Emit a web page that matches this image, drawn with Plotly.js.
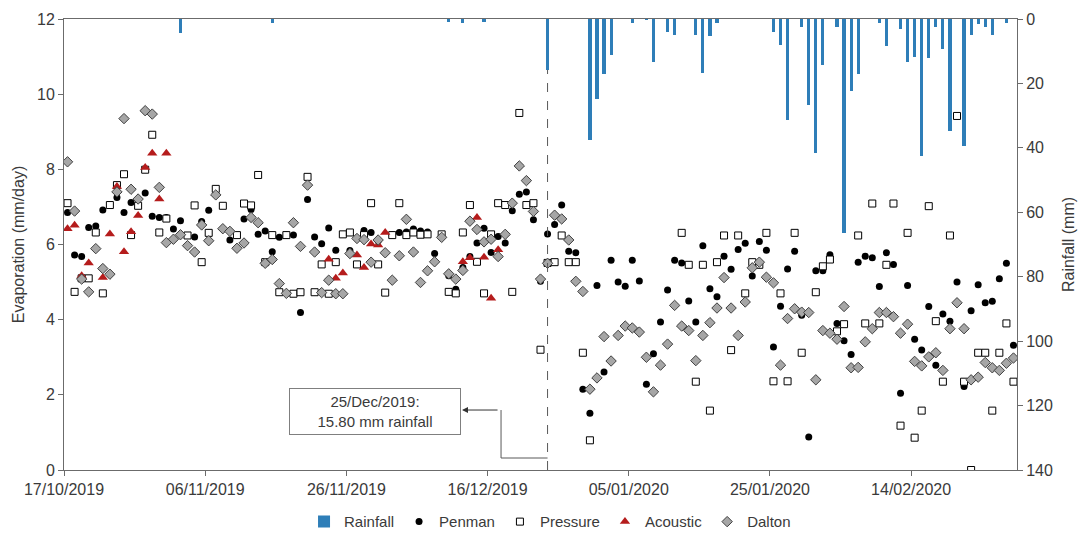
<!DOCTYPE html>
<html>
<head>
<meta charset="utf-8">
<script src="https://cdn.plot.ly/plotly-3.0.1.min.js"></script>
<style>html,body{margin:0;padding:0;background:#fff;}#chart{width:1084px;height:533px;}</style>
</head>
<body>
<div id="chart"></div>
<script>
// ---- Data ----
const DAY = 86400000;
const firstDate = '2019-10-18';
const nDays = 135;
const dates = [];
for (let i = 0; i < nDays; i++) {
  dates.push(new Date(Date.parse(firstDate + 'T00:00:00Z') + i * DAY).toISOString().slice(0, 10));
}

const penman = [6.85,5.72,5.68,6.45,6.49,6.92,null,7.25,6.85,7.12,null,7.37,6.75,6.72,6.72,6.41,6.63,null,6.20,6.61,
  6.91,null,null,6.12,null,6.68,6.93,6.27,6.36,5.81,6.19,6.25,6.25,4.19,7.20,6.20,6.02,6.44,5.85,null,
  5.84,null,6.37,6.32,6.10,null,6.26,6.32,6.33,6.41,6.36,6.33,5.76,null,5.17,4.81,5.39,5.68,6.04,6.43,
  5.79,6.21,6.04,6.90,7.34,7.40,6.66,5.02,6.28,6.53,7.05,5.82,5.78,2.15,1.51,4.91,2.61,5.58,5.00,4.89,
  5.58,5.03,2.28,3.09,3.94,4.79,5.58,5.51,4.50,3.94,5.97,4.82,4.61,5.69,5.34,5.87,6.03,5.16,6.08,5.85,
  3.27,4.36,5.35,5.82,4.12,0.88,5.30,5.30,5.73,3.90,3.44,3.07,5.53,5.69,5.65,4.88,5.78,5.47,2.04,4.91,
  3.48,3.19,4.35,2.79,4.15,3.96,5.00,2.22,4.24,4.93,4.45,4.49,5.09,5.50,3.32];

const pressure = [7.10,4.74,5.10,5.10,6.32,4.70,7.05,7.58,7.87,6.25,7.03,7.99,8.92,6.32,6.69,null,null,6.24,7.04,5.53,
  6.31,7.48,7.03,null,6.25,7.09,7.04,7.85,5.53,6.25,4.73,6.25,4.69,4.73,7.80,4.73,5.47,4.69,5.53,6.27,
  6.32,5.47,6.25,7.10,5.47,4.72,6.25,7.10,6.25,6.32,6.26,6.27,null,6.27,4.74,4.70,6.32,7.05,5.54,4.70,
  6.27,7.10,7.05,4.74,9.50,7.05,7.10,3.20,5.51,5.53,6.24,5.53,5.53,3.12,0.79,null,null,null,null,null,
  null,null,null,null,null,null,null,6.31,5.46,2.35,5.46,1.58,5.53,6.24,3.19,6.24,4.70,5.53,5.46,6.31,
  2.36,4.70,2.36,6.31,3.12,null,4.73,5.42,5.60,3.69,3.88,null,6.24,3.90,7.09,3.90,5.46,7.09,1.18,6.31,
  0.86,1.58,7.02,3.96,2.35,6.24,9.42,2.35,0.00,3.12,3.12,1.58,3.12,3.90,2.35];

const acoustic = [6.42,6.51,5.17,5.51,null,5.12,6.28,7.54,5.81,6.34,6.77,8.05,8.43,7.21,8.43,null,null,null,null,null,
  null,null,null,null,null,null,null,null,null,null,null,null,null,null,null,null,null,5.61,5.10,5.24,
  null,5.72,5.39,6.01,5.99,6.32,null,null,null,null,null,null,null,null,null,null,5.54,5.65,6.72,5.66,
  4.57,5.86];

const dalton = [8.20,6.89,5.08,4.74,5.89,5.36,5.21,7.40,9.35,7.47,7.21,9.56,9.47,7.52,6.05,6.14,6.26,5.97,5.80,6.52,
  6.10,7.32,6.42,6.35,5.90,6.04,6.72,6.58,5.50,5.60,4.96,4.70,6.58,5.95,7.58,5.80,4.72,5.05,4.69,4.69,
  5.76,6.16,6.13,5.53,6.12,5.78,5.05,5.70,6.67,5.80,4.99,5.30,5.54,6.19,5.22,5.08,5.31,6.62,6.40,6.07,
  6.14,5.68,6.27,7.10,8.09,7.70,6.88,5.08,5.50,6.78,6.68,6.12,5.02,4.75,2.15,2.45,3.55,2.90,3.58,3.83,
  3.78,3.67,3.00,2.08,2.79,3.35,4.38,3.83,3.71,2.91,3.58,3.92,4.31,5.12,4.31,3.58,4.47,5.38,5.53,5.13,
  4.98,2.79,4.03,4.29,4.20,4.19,2.40,3.71,3.64,3.48,4.35,2.72,2.73,3.41,3.76,4.19,4.19,4.08,3.64,3.88,
  2.89,2.77,3.01,3.12,2.65,3.76,4.45,3.76,2.40,2.47,2.86,2.72,2.65,2.84,2.98];

const rainDates = ['2019-11-03','2019-11-16','2019-12-11','2019-12-13','2019-12-16','2019-12-25','2019-12-31',
  '2020-01-01','2020-01-02','2020-01-03','2020-01-06','2020-01-08','2020-01-09','2020-01-11','2020-01-12',
  '2020-01-15','2020-01-16','2020-01-17','2020-01-18','2020-01-26','2020-01-27','2020-01-28','2020-01-30',
  '2020-01-31','2020-02-01','2020-02-02','2020-02-04','2020-02-05','2020-02-06','2020-02-07','2020-02-10',
  '2020-02-11','2020-02-13','2020-02-14','2020-02-15','2020-02-16','2020-02-17','2020-02-18','2020-02-19',
  '2020-02-20','2020-02-22','2020-02-23','2020-02-24','2020-02-25','2020-02-26','2020-02-28'];
const rainValues = [4.2,1.1,0.8,1.1,0.8,15.8,37.6,
  24.9,17.1,11.2,1.1,0.4,13.3,3.9,5.0,
  5.0,16.7,5.3,1.1,3.9,8.1,31.2,2.4,
  26.7,41.5,14.3,2.6,66.4,22.3,17.1,1.3,
  8.4,3.2,13.3,11.9,42.5,12.2,2.6,9.4,
  34.7,39.4,5.0,1.6,2.4,5.0,1.3];

const xTickLabelsStart = '2019-10-17';
const xRangeEnd = '2020-02-29';
const eventDate = '2019-12-25';
const eventText = '25/Dec/2019:<br>15.80 mm rainfall';

// ---- Helpers: each day's mark sits half a day before its date (Excel slot centring) ----
function slot(d) {
  return new Date(Date.parse(d + 'T00:00:00Z') - DAY / 2).toISOString().replace('T', ' ').slice(0, 19);
}
const xs = dates.map(slot);
const rainX = rainDates.map(slot);

const txt = '#3a3a3a';
const axisCol = '#6b6b6b';
const fontFam = '"Liberation Sans", Arial, sans-serif';

const traces = [
  {type: 'bar', name: 'Rainfall', x: rainX, y: rainValues, yaxis: 'y',
   width: 0.45 * DAY, marker: {color: '#2E7EB8'}, base: 0},
  {type: 'scatter', mode: 'markers', name: 'Penman', x: xs, y: penman, yaxis: 'y2',
   marker: {symbol: 'circle', size: 7, color: '#000'}},
  {type: 'scatter', mode: 'markers', name: 'Pressure', x: xs, y: pressure, yaxis: 'y2',
   marker: {symbol: 'square', size: 7, color: '#fff', line: {color: '#000', width: 1}}},
  {type: 'scatter', mode: 'markers', name: 'Acoustic', x: xs.slice(0, acoustic.length), y: acoustic, yaxis: 'y2',
   marker: {symbol: 'triangle-up', size: 9, color: '#B51C1C'}},
  {type: 'scatter', mode: 'markers', name: 'Dalton', x: xs, y: dalton, yaxis: 'y2',
   marker: {symbol: 'diamond', size: 8, color: '#A6A6A6', line: {color: '#404040', width: 1}}}
];

const r0 = Date.parse(xTickLabelsStart + 'T00:00:00Z');
const r1 = Date.parse(xRangeEnd + 'T00:00:00Z');
const evMs = Date.parse(slot(eventDate).replace(' ', 'T') + 'Z');
const evPaper = (evMs - r0) / (r1 - r0);
const evRain = rainValues[rainDates.indexOf(eventDate)];

const layout = {
  width: 1084, height: 533,
  margin: {l: 64, r: 67, t: 19, b: 63, autoexpand: false},
  paper_bgcolor: '#fff', plot_bgcolor: 'rgba(0,0,0,0)',
  font: {family: fontFam, size: 15, color: txt},
  showlegend: true,
  legend: {orientation: 'h', x: 0.51, xanchor: 'center', y: -0.115, yanchor: 'middle',
           font: {size: 15, color: txt}, itemwidth: 30, traceorder: 'normal', tracegroupgap: 0},
  bargap: 0,
  xaxis: {type: 'date', range: [xTickLabelsStart, xRangeEnd], tick0: xTickLabelsStart, dtick: 20 * DAY,
          tickformat: '%d/%m/%Y', ticks: 'outside', ticklen: 5, tickcolor: axisCol,
          showline: true, linecolor: axisCol, linewidth: 1, mirror: true, showgrid: false, zeroline: false,
          tickfont: {size: 16, color: txt}},
  yaxis: {range: [140, 0], dtick: 20, side: 'right', ticks: 'outside', ticklen: 5, tickcolor: axisCol,
          showline: true, linecolor: axisCol, showgrid: false, zeroline: false,
          title: {text: 'Rainfall (mm)', font: {size: 16, color: txt}, standoff: 10},
          tickfont: {size: 16, color: txt}},
  yaxis2: {range: [0, 12], dtick: 2, side: 'left', overlaying: 'y', ticks: 'outside', ticklen: 5, tickcolor: axisCol,
           showline: true, linecolor: axisCol, showgrid: false, zeroline: false,
           title: {text: 'Evaporation (mm/day)', font: {size: 16, color: txt}, standoff: 8},
           tickfont: {size: 16, color: txt}},
  shapes: [
    {type: 'line', xref: 'x', yref: 'y', x0: slot(eventDate), x1: slot(eventDate), y0: 140, y1: evRain,
     line: {color: '#595959', width: 1, dash: 'dash'}},
    {type: 'line', xref: 'paper', yref: 'paper', x0: evPaper, x1: 0.4586, y0: 0.0266, y1: 0.0266,
     line: {color: '#595959', width: 1}},
    {type: 'line', xref: 'paper', yref: 'paper', x0: 0.4586, x1: 0.4586, y0: 0.0266, y1: 0.133,
     line: {color: '#595959', width: 1}}
  ],
  annotations: [
    {xref: 'paper', yref: 'paper', x: 0.4176, y: 0.133, axref: 'paper', ayref: 'paper', ax: 0.4586, ay: 0.133,
     text: ' ', showarrow: true, arrowhead: 2, arrowsize: 1.2, arrowwidth: 1, arrowcolor: '#333'},
    {xref: 'paper', yref: 'paper', x: 0.3263, y: 0.13, xanchor: 'center', yanchor: 'middle',
     text: eventText, showarrow: false, align: 'center', bgcolor: '#fff',
     bordercolor: '#7f7f7f', borderwidth: 1, borderpad: 4, width: 162, height: 37,
     font: {size: 15, color: txt}}
  ]
};

Plotly.newPlot('chart', traces, layout, {staticPlot: true, displayModeBar: false});
</script>
</body>
</html>
